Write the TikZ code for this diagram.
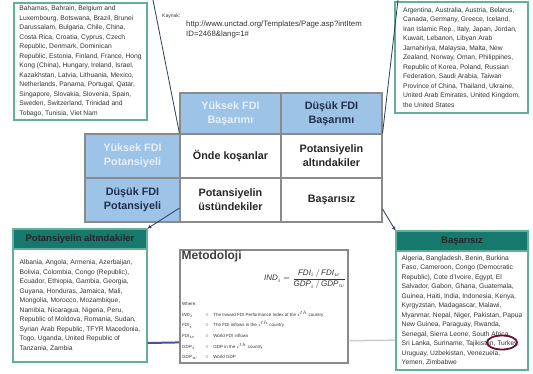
\documentclass[tikz,border=0pt]{standalone}
\usepackage{amsmath}
\usepackage{fontspec}
\setmainfont{Liberation Sans}
\usetikzlibrary{arrows,positioning}
\definecolor{eBlue}{HTML}{9DC3E6}
\definecolor{eNavy}{HTML}{1F2D4E}
\definecolor{eLight}{HTML}{E6EFF9}
\definecolor{eGreen}{HTML}{62B096}
\definecolor{eTeal}{HTML}{17786E}
\definecolor{eGrid}{HTML}{8A8A8A}
\definecolor{eWine}{HTML}{6A1030}
\definecolor{eLink}{HTML}{2B3C5C}
\definecolor{ePurple}{HTML}{50508C}
\colorlet{eFaint}{gray!40}
\tikzset{cell/.style={draw=eGrid, line width=1.1pt, fill=white, inner sep=1pt,
  minimum width=101pt, minimum height=44pt, align=center, text=black!85,
  font=\fontsize{10.8}{14}\selectfont\bfseries}}
\tikzset{top/.style={cell, fill=eBlue, minimum height=41pt}}
\tikzset{side/.style={cell, fill=eBlue, minimum width=95pt}}
\tikzset{pale/.style={text=eLight}}
\tikzset{dark/.style={text=eNavy}}
\tikzset{list/.style={draw=eGreen, line width=1.3pt, fill=white, align=left,
  inner xsep=3pt, inner ysep=1pt, text=black!80,
  font=\fontsize{6.7}{9.5}\selectfont}}
\tikzset{bar/.style={draw=eGreen, line width=1.3pt, fill=eTeal, minimum height=20pt,
  inner sep=1pt, text=black!85, font=\fontsize{9.5}{11}\selectfont\bfseries}}
\tikzset{note/.style={inner sep=0pt, text=black!80, align=left}}
\tikzset{link/.style={draw=eLink, line width=0.8pt}}
\tikzset{arr/.style={link, -stealth}}
\tikzset{pl/.style={draw=ePurple, line width=2pt}}
\tikzset{gl/.style={draw=eFaint, line width=1.5pt}}
\tikzset{ring/.style={draw=eWine, line width=1.8pt}}

\begin{document}
\begin{tikzpicture}[x=1pt,y=-1pt]
        \useasboundingbox (0,0) rectangle (533,374);
        %% country lists at the top
        \node (lead) at (80.5,61.5) [list, minimum width=133pt, minimum height=117pt]
          {Bahamas, Bahrain, Belgium and\\
           Luxembourg, Botswana, Brazil, Brunei\\
           Darussalam, Bulgaria, Chile, China,\\
           Costa Rica, Croatia, Cyprus, Czech\\
           Republic, Denmark, Dominican\\
           Republic, Estonia, Finland, France, Hong\\
           Kong (China), Hungary, Ireland, Israel,\\
           Kazakhstan, Latvia, Lithuania, Mexico,\\
           Netherlands, Panama, Portugal, Qatar,\\
           Singapore, Slovakia, Slovenia, Spain,\\
           Sweden, Switzerland, Trinidad and\\
           Tobago, Tunisia, Viet Nam};
        \node (below) at (461.5,57.5) [list, minimum width=133pt, minimum height=111pt]
          {Argentina, Australia, Austria, Belarus,\\
           Canada, Germany, Greece, Iceland,\\
           Iran Islamic Rep., Italy, Japan, Jordan,\\
           Kuwait, Lebanon, Libyan Arab\\
           Jamahiriya, Malaysia, Malta, New\\
           Zealand, Norway, Oman, Philippines,\\
           Republic of Korea, Poland, Russian\\
           Federation, Saudi Arabia, Taiwan\\
           Province of China, Thailand, Ukraine,\\
           United Arab Emirates, United Kingdom,\\
           the United States};
        \node (src) at (162,16) [note, anchor=west, font=\fontsize{5}{6}\selectfont] {Kaynak:};
        \node (url) at (186,21) [note, anchor=north west, font=\fontsize{7.8}{10}\selectfont]
          {http://www.unctad.org/Templates/Page.asp?intItem\\ID=2468\&lang=1\#};
        %% matrix
        \node (h1) at (230.5,113.5) [top, pale] {Yüksek FDI\\Başarımı};
        \node (h2) at (331.5,113.5) [top, dark] {Düşük FDI\\Başarımı};
        \node (p1) at (132.5,156) [side, pale] {Yüksek FDI\\Potansiyeli};
        \node (p2) at (132.5,200) [side, dark] {Düşük FDI\\Potansiyeli};
        \node (c11) at (230.5,156) [cell] {Önde koşanlar};
        \node (c12) at (331.5,156) [cell] {Potansiyelin\\altındakiler};
        \node (c21) at (230.5,200) [cell] {Potansiyelin\\üstündekiler};
        \node (c22) at (331.5,200) [cell] {Başarısız};
        %% country lists at the bottom
        \node (altHead) at (80,239) [bar, minimum width=134pt] {Potansiyelin altındakiler};
        \node (altBody) at (80,305.5) [list, minimum width=134pt, minimum height=113pt]
          {Albania, Angola, Armenia, Azerbaijan,\\
           Bolivia, Colombia, Congo (Republic),\\
           Ecuador, Ethiopia, Gambia, Georgia,\\
           Guyana, Honduras, Jamaica, Mali,\\
           Mongolia, Morocco, Mozambique,\\
           Namibia, Nicaragua, Nigeria, Peru,\\
           Republic of Moldova, Romania, Sudan,\\
           Syrian Arab Republic, TFYR Macedonia,\\
           Togo, Uganda, United Republic of\\
           Tanzania, Zambia};
        \node (basHead) at (462,241) [bar, minimum width=132pt] {Başarısız};
        \node (basBody) at (462,310.5) [list, minimum width=132pt, minimum height=119pt]
          {Algeria, Bangladesh, Benin, Burkina\\
           Faso, Cameroon, Congo (Democratic\\
           Republic), Cote d'Ivoire, Egypt, El\\
           Salvador, Gabon, Ghana, Guatemala,\\
           Guinea, Haiti, India, Indonesia, Kenya,\\
           Kyrgyzstan, Madagascar, Malawi,\\
           Myanmar, Nepal, Niger, Pakistan, Papua\\
           New Guinea, Paraguay, Rwanda,\\
           Senegal, Sierra Leone, South Africa,\\
           Sri Lanka, Suriname, Tajikistan, Turkey,\\
           Uruguay, Uzbekistan, Venezuela,\\
           Yemen, Zimbabwe};
        \draw [ring] (502,342.5) ellipse (15pt and 7pt);
        %% method box
        \node (met) at (264,306.5) [draw=eGrid, line width=1.2pt, minimum width=168pt,
          minimum height=113pt] {};
        \node (metT) [below right=1pt and 2pt of met.north west, anchor=north west,
          note, text=black!75, font=\fontsize{12}{14}\selectfont\bfseries] {Metodoloji};
        \node (frm) at (346,279) [note, anchor=east, font=\fontsize{8}{10}\selectfont]
          {$\mathit{IND}_i=\dfrac{\mathit{FDI}_i\,/\,\mathit{FDI}_w}{\mathit{GDP}_i\,/\,\mathit{GDP}_w}$};
        \node (leg) at (182,298) [note, anchor=north west, font=\fontsize{4.5}{10.6}\selectfont]
          {\begin{tabular}{@{}l@{\hspace{8pt}}c@{\hspace{5pt}}l@{}}
           \multicolumn{3}{@{}l}{Where:}\\
           $\mathit{IND}_i$ & = & The Inward FDI Performance Index of the $i^{th}$ country\\
           $\mathit{FDI}_i$ & = & The FDI inflows in the $i^{th}$ country\\
           $\mathit{FDI}_w$ & = & World FDI inflows\\
           $\mathit{GDP}_i$ & = & GDP in the $i^{th}$ country\\
           $\mathit{GDP}_w$ & = & World GDP
           \end{tabular}};
        %% connectors
        \coordinate (tlTop) at (153,0);
        \coordinate (trTop) at (398,0);
        \draw [link] (tlTop) to (c11.north west);
        \draw [link] (trTop) to (c12.north east);
        \draw [arr] (c21.189) to (altHead.north east);
        \draw [arr] (c22.350) to (basHead.north west);
        \draw [pl] (altBody.-29) to (met.203);
        \draw [gl] (met.-22) to (basBody.204);
    \end{tikzpicture}
\end{document}
